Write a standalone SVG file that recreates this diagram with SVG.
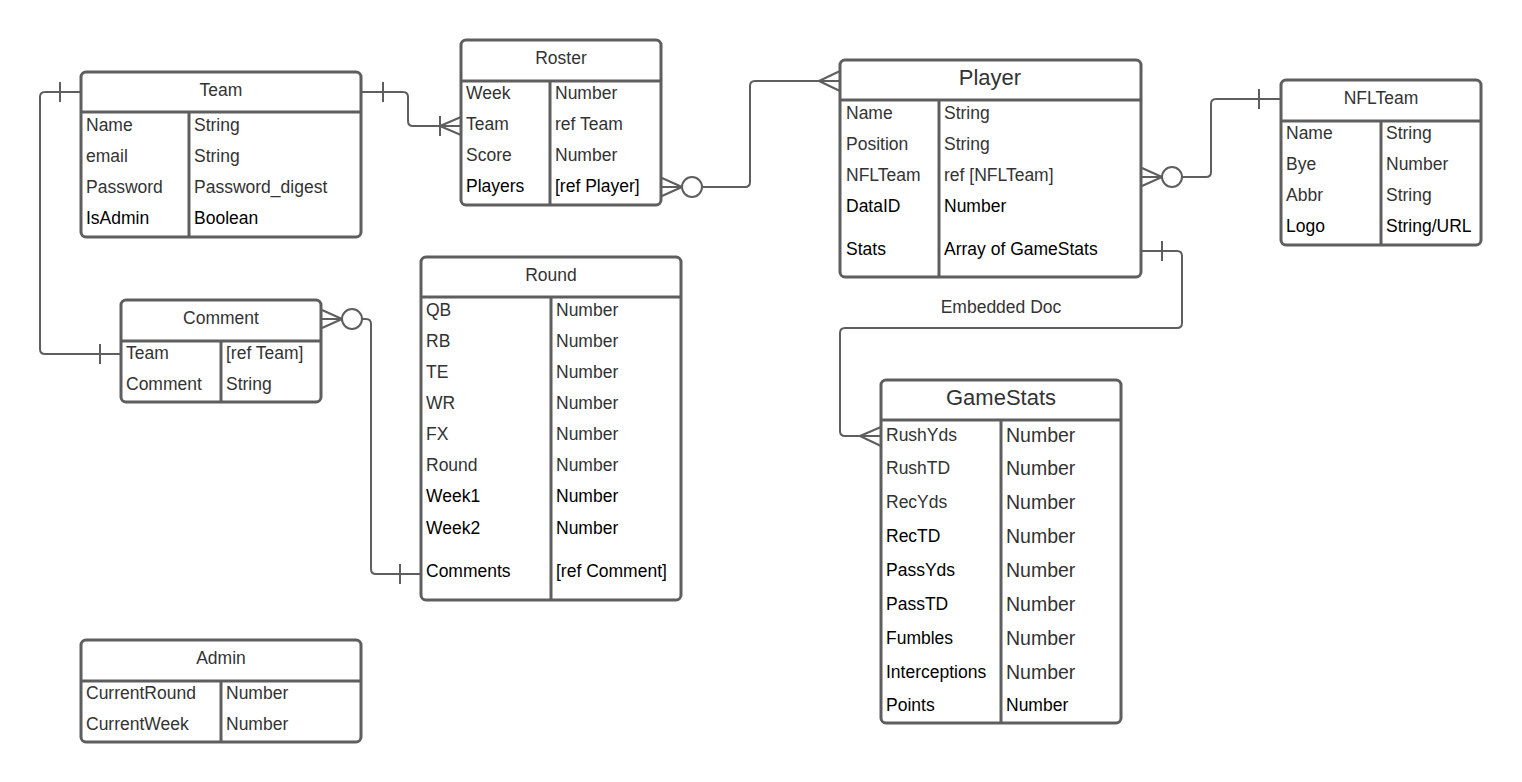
<svg xmlns="http://www.w3.org/2000/svg" width="1522" height="782" viewBox="0 0 1522 782">
<style>
.box{fill:#fff;stroke:#5e5e5e;stroke-width:3}
.ln{stroke:#5e5e5e;stroke-width:3;fill:none}
.cn{stroke:#5e5e5e;stroke-width:2;fill:none}
.ci{stroke:#5e5e5e;stroke-width:2;fill:#fff}
text{font-family:"Liberation Sans",Arial,sans-serif;font-size:17.5px;fill:#333;dominant-baseline:central}
.h{text-anchor:middle}
.big{font-size:22px}
.k{fill:#000}
.n18{font-size:19.5px}
</style>
<rect width="1522" height="782" fill="#fff"/>
<g id="connectors">
<!-- Team left to Comment -->
<path class="cn" d="M81,92 H45 Q40,92 40,97 V349 Q40,354 45,354 H121"/>
<line class="cn" x1="60" y1="82" x2="60" y2="102"/>
<line class="cn" x1="100" y1="344" x2="100" y2="364"/>
<!-- Team right to Roster -->
<path class="cn" d="M361,92 H403 Q408,92 408,97 V121 Q408,126 413,126 H461"/>
<line class="cn" x1="383" y1="82" x2="383" y2="102"/>
<line class="cn" x1="440" y1="116" x2="440" y2="136"/>
<path class="cn" d="M440,126 L461,117 M440,126 L461,135"/>
<!-- Roster to Player -->
<path class="cn" d="M702,187 H745 Q750,187 750,182 V86 Q750,81 755,81 H840"/>
<path class="cn" d="M662,178 L682,187 M662,196 L682,187 M661,187 H682"/>
<circle class="ci" cx="692" cy="187" r="10"/>
<path class="cn" d="M819,81 L840,71 M819,81 L840,91"/>
<!-- Player to NFLTeam -->
<path class="cn" d="M1182,177 H1206 Q1211,177 1211,172 V104 Q1211,99 1216,99 H1281"/>
<path class="cn" d="M1142,168 L1162,177 M1142,186 L1162,177 M1141,177 H1162"/>
<circle class="ci" cx="1172" cy="177" r="10"/>
<line class="cn" x1="1259" y1="89" x2="1259" y2="109"/>
<!-- Player to GameStats -->
<path class="cn" d="M1141,251 H1177 Q1182,251 1182,256 V323 Q1182,328 1177,328 H845 Q840,328 840,333 V431 Q840,436 845,436 H881"/>
<line class="cn" x1="1162" y1="241" x2="1162" y2="261"/>
<path class="cn" d="M860,436 L881,427 M860,436 L881,446"/>
<!-- Comment to Round -->
<path class="cn" d="M362,319 H366 Q371,319 371,324 V569 Q371,574 376,574 H421"/>
<path class="cn" d="M322,310 L342,319 M322,328 L342,319 M321,319 H342"/>
<circle class="ci" cx="352" cy="319" r="10"/>
<line class="cn" x1="400" y1="564" x2="400" y2="584"/>
<text x="1001" y="307" class="h">Embedded Doc</text>
</g>
<g id="team">
<rect class="box" x="81" y="72" width="280" height="165" rx="5"/>
<line class="ln" x1="81" y1="112" x2="361" y2="112"/>
<line class="ln" x1="189" y1="112" x2="189" y2="237"/>
<text x="221" y="90" class="h">Team</text>
<text x="86" y="125">Name</text><text x="194" y="125">String</text>
<text x="86" y="156">email</text><text x="194" y="156">String</text>
<text x="86" y="187">Password</text><text x="194" y="187">Password_digest</text>
<text x="86" y="218" class="k">IsAdmin</text><text x="194" y="218" class="k">Boolean</text>
</g>
<g id="roster">
<rect class="box" x="461" y="40" width="200" height="165" rx="5"/>
<line class="ln" x1="461" y1="81" x2="661" y2="81"/>
<line class="ln" x1="550" y1="81" x2="550" y2="205"/>
<text x="561" y="58" class="h">Roster</text>
<text x="466" y="93">Week</text><text x="555" y="93">Number</text>
<text x="466" y="124">Team</text><text x="555" y="124">ref Team</text>
<text x="466" y="155">Score</text><text x="555" y="155">Number</text>
<text x="466" y="186" class="k">Players</text><text x="555" y="186" class="k">[ref Player]</text>
</g>
<g id="player">
<rect class="box" x="840" y="60" width="301" height="217" rx="5"/>
<line class="ln" x1="840" y1="100" x2="1141" y2="100"/>
<line class="ln" x1="939" y1="100" x2="939" y2="277"/>
<text x="990" y="77" class="h big">Player</text>
<text x="846" y="113">Name</text><text x="944" y="113">String</text>
<text x="846" y="144">Position</text><text x="944" y="144">String</text>
<text x="846" y="175">NFLTeam</text><text x="944" y="175">ref [NFLTeam]</text>
<text x="846" y="206" class="k">DataID</text><text x="944" y="206" class="k">Number</text>
<text x="846" y="249" class="k">Stats</text><text x="944" y="249" class="k">Array of GameStats</text>
</g>
<g id="nflteam">
<rect class="box" x="1281" y="80" width="200" height="165" rx="5"/>
<line class="ln" x1="1281" y1="121" x2="1481" y2="121"/>
<line class="ln" x1="1381" y1="121" x2="1381" y2="245"/>
<text x="1381" y="98" class="h">NFLTeam</text>
<text x="1286" y="133">Name</text><text x="1386" y="133">String</text>
<text x="1286" y="164">Bye</text><text x="1386" y="164">Number</text>
<text x="1286" y="195">Abbr</text><text x="1386" y="195">String</text>
<text x="1286" y="226" class="k">Logo</text><text x="1386" y="226" class="k">String/URL</text>
</g>
<g id="comment">
<rect class="box" x="121" y="300" width="200" height="102" rx="5"/>
<line class="ln" x1="121" y1="341" x2="321" y2="341"/>
<line class="ln" x1="221" y1="341" x2="221" y2="402"/>
<text x="221" y="318" class="h">Comment</text>
<text x="126" y="353">Team</text><text x="226" y="353">[ref Team]</text>
<text x="126" y="384">Comment</text><text x="226" y="384">String</text>
</g>
<g id="round">
<rect class="box" x="421" y="257" width="260" height="343" rx="5"/>
<line class="ln" x1="421" y1="297" x2="681" y2="297"/>
<line class="ln" x1="551" y1="297" x2="551" y2="600"/>
<text x="551" y="275" class="h">Round</text>
<text x="426" y="310">QB</text><text x="556" y="310">Number</text>
<text x="426" y="341">RB</text><text x="556" y="341">Number</text>
<text x="426" y="372">TE</text><text x="556" y="372">Number</text>
<text x="426" y="403">WR</text><text x="556" y="403">Number</text>
<text x="426" y="434">FX</text><text x="556" y="434">Number</text>
<text x="426" y="465">Round</text><text x="556" y="465">Number</text>
<text x="426" y="496" class="k">Week1</text><text x="556" y="496" class="k">Number</text>
<text x="426" y="528" class="k">Week2</text><text x="556" y="528" class="k">Number</text>
<text x="426" y="571" class="k">Comments</text><text x="556" y="571" class="k">[ref Comment]</text>
</g>
<g id="gamestats">
<rect class="box" x="881" y="380" width="240" height="343" rx="5"/>
<line class="ln" x1="881" y1="420" x2="1121" y2="420"/>
<line class="ln" x1="1001" y1="420" x2="1001" y2="723"/>
<text x="1001" y="397" class="h big">GameStats</text>
<text x="886" y="435">RushYds</text><text x="1006" y="435" class="n18">Number</text>
<text x="886" y="468">RushTD</text><text x="1006" y="468" class="n18">Number</text>
<text x="886" y="502">RecYds</text><text x="1006" y="502" class="n18">Number</text>
<text x="886" y="536" class="k">RecTD</text><text x="1006" y="536" class="n18">Number</text>
<text x="886" y="570" class="k">PassYds</text><text x="1006" y="570" class="n18">Number</text>
<text x="886" y="604" class="k">PassTD</text><text x="1006" y="604" class="n18">Number</text>
<text x="886" y="638" class="k">Fumbles</text><text x="1006" y="638" class="n18">Number</text>
<text x="886" y="672" class="k">Interceptions</text><text x="1006" y="672" class="n18">Number</text>
<text x="886" y="705" class="k">Points</text><text x="1006" y="705" class="k">Number</text>
</g>
<g id="admin">
<rect class="box" x="81" y="640" width="280" height="102" rx="5"/>
<line class="ln" x1="81" y1="681" x2="361" y2="681"/>
<line class="ln" x1="221" y1="681" x2="221" y2="742"/>
<text x="221" y="658" class="h">Admin</text>
<text x="86" y="693">CurrentRound</text><text x="226" y="693">Number</text>
<text x="86" y="724">CurrentWeek</text><text x="226" y="724">Number</text>
</g>
</svg>
